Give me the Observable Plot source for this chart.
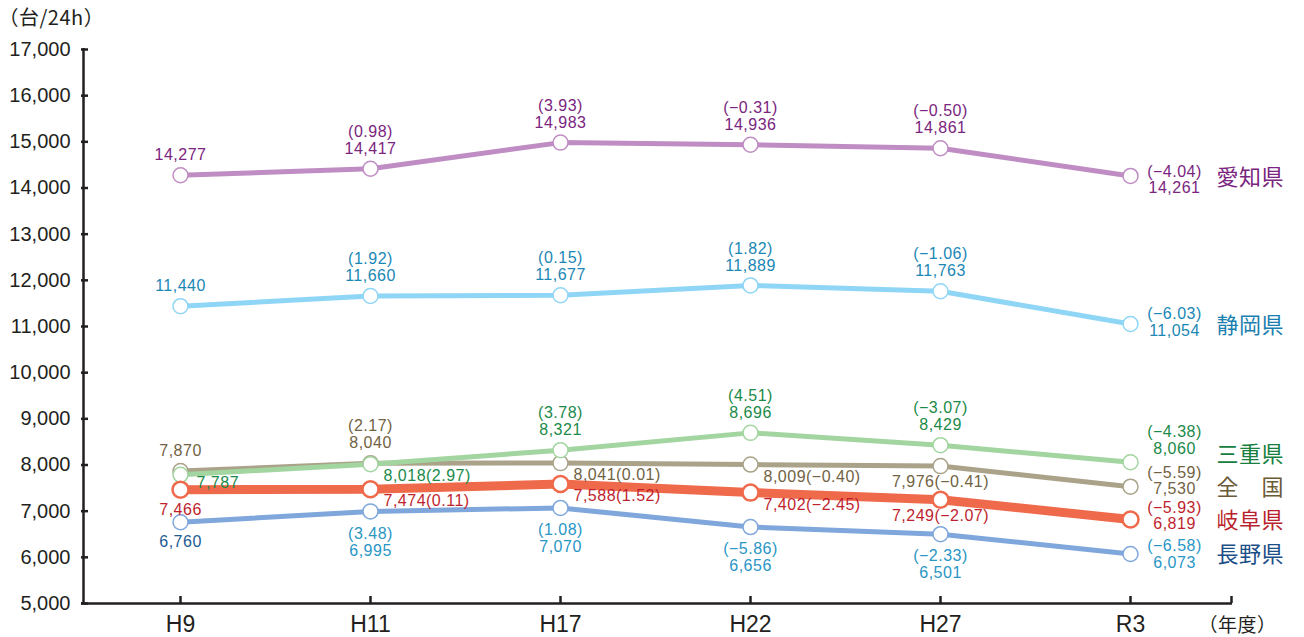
<!DOCTYPE html>
<html>
<head>
<meta charset="utf-8">
<script src="https://cdn.jsdelivr.net/npm/d3@7"></script>
<script src="https://cdn.jsdelivr.net/npm/@observablehq/plot@0.6"></script>
<style>
  html, body { margin: 0; padding: 0; background: #fff; }
  #chart svg g[aria-label="text"] text { letter-spacing: 0.5px; }
</style>
</head>
<body>
<div id="chart"></div>
<script>
// ---------- DATA ----------
const years = ["H9", "H11", "H17", "H22", "H27", "R3"];
const seriesNames = ["愛知県", "静岡県", "三重県", "全国", "岐阜県", "長野県"];
const aichi      = [14277, 14417, 14983, 14936, 14861, 14261];
const aichiPct   = [null, 0.98, 3.93, -0.31, -0.50, -4.04];
const shizuoka   = [11440, 11660, 11677, 11889, 11763, 11054];
const shizuokaPct= [null, 1.92, 0.15, 1.82, -1.06, -6.03];
const mie        = [7787, 8018, 8321, 8696, 8429, 8060];
const miePct     = [null, 2.97, 3.78, 4.51, -3.07, -4.38];
const zenkoku    = [7870, 8040, 8041, 8009, 7976, 7530];
const zenkokuPct = [null, 2.17, 0.01, -0.40, -0.41, -5.59];
const gifu       = [7466, 7474, 7588, 7402, 7249, 6819];
const gifuPct    = [null, 0.11, 1.52, -2.45, -2.07, -5.93];
const nagano     = [6760, 6995, 7070, 6656, 6501, 6073];
const naganoPct  = [null, 3.48, 1.08, -5.86, -2.33, -6.58];
const yTicks = [5000, 6000, 7000, 8000, 9000, 10000, 11000, 12000, 13000, 14000, 15000, 16000, 17000];
const seriesLabels = ["愛知県", "静岡県", "三重県", "全　国", "岐阜県", "長野県"];
const yUnit = "（台/24h）";
const xUnit = "（年度）";

const values = {"愛知県": aichi, "静岡県": shizuoka, "三重県": mie, "全国": zenkoku, "岐阜県": gifu, "長野県": nagano};
const pcts   = {"愛知県": aichiPct, "静岡県": shizuokaPct, "三重県": miePct, "全国": zenkokuPct, "岐阜県": gifuPct, "長野県": naganoPct};

// ---------- LAYOUT / STYLE ----------
const W = 1304, H = 637;
const mL = 81, mR = 72, mT = 49, mB = 34;
const frameW = W - mL - mR, frameH = H - mT - mB;
const xFirst = 178, xLast = 1131;
const axisColor = "#231f20";
const style = {
  "愛知県": {line: "#bf8dc3", text: "#7a2580", name: "#7a2580", w: 5, r: 7.5, sw: 1.5,
            place: ["a1", "a", "a", "a", "a", "e"], end: [-4, 12], nameDy: 2},
  "静岡県": {line: "#8fd6f6", text: "#1b87b5", name: "#1b7fb0", w: 5, r: 7.5, sw: 1.5,
            place: ["a1", "a", "a", "a", "a", "e"], end: [-10, 7], nameDy: 2},
  "三重県": {line: "#a2d5a0", text: "#1b8a49", name: "#17803f", w: 5, r: 7.5, sw: 1.5,
            place: ["r1", "r", "a", "a", "a", "e"], end: [-30, -13], nameDy: -7},
  "全国":   {line: "#aaa38a", text: "#716343", name: "#6b5a37", w: 5, r: 7.5, sw: 1.5,
            place: ["a1", "a", "r", "r", "c", "e"], end: [-14, 2], nameDy: 1},
  "岐阜県": {line: "#ef694b", text: "#c01f2e", name: "#b91f2d", w: 9, r: 8, sw: 2.5,
            place: ["b1", "r", "r", "r", "c", "e"], end: [-12, 4], nameDy: 1},
  "長野県": {line: "#7fa7db", text: "#2a96c5", first: "#1d5b92", name: "#1c4e88", w: 5, r: 7.5, sw: 1.5,
            place: ["b1", "b", "b", "b", "b", "e"], end: [-8, 9], nameDy: 1}
};
const drawOrder = ["全国", "三重県", "長野県", "岐阜県", "静岡県", "愛知県"];

const fmtV = d3.format(",");
const fmtP = p => "(" + (p < 0 ? "−" : "") + Math.abs(p).toFixed(2) + ")";

const rows = seriesNames.flatMap(s => years.map((yr, i) => ({series: s, year: yr, value: values[s][i], pct: pcts[s][i], i})));

const marks = [];
// axis lines and ticks
marks.push(Plot.ruleY([5000], {stroke: axisColor, strokeWidth: 2.5}));
marks.push(Plot.tickX(["H9"], {x: d => d, dx: mL - xFirst, stroke: axisColor, strokeWidth: 2.5, insetTop: -1}));
marks.push(Plot.tickY(yTicks, {y: d => d, stroke: axisColor, strokeWidth: 2.5, insetRight: frameW - 7}));
marks.push(Plot.tickX(years, {x: d => d, stroke: axisColor, strokeWidth: 2.5, insetTop: frameH - 7}));
marks.push(Plot.tickX(["R3"], {x: d => d, dx: (W - mR) - xLast, stroke: axisColor, strokeWidth: 2.5, insetTop: frameH - 7}));
marks.push(Plot.axisY(yTicks, {tickSize: 0, tickPadding: 11, tickFormat: fmtV, fontSize: 20, fill: axisColor, label: null}));
marks.push(Plot.axisX({tickSize: 0, tickPadding: 12, fontSize: 23, fill: axisColor, label: null}));

// lines
for (const s of drawOrder) {
  const st = style[s];
  marks.push(Plot.line(rows.filter(r => r.series === s), {x: "year", y: "value", stroke: st.line, strokeWidth: st.w, strokeLinejoin: "round"}));
}
// dots
for (const s of drawOrder) {
  const st = style[s];
  marks.push(Plot.dot(rows.filter(r => r.series === s), {x: "year", y: "value", r: st.r, fill: "white", stroke: st.line, strokeWidth: st.sw}));
}
// labels
const font = "Liberation Sans, Arial, sans-serif";
function lbl(row, text, color, opts) {
  marks.push(Plot.text([row], {x: "year", y: "value", text: () => text, fill: color, fontSize: 16, fontFamily: font, lineAnchor: "middle", ...opts}));
}
for (const s of seriesNames) {
  const st = style[s];
  rows.filter(r => r.series === s).forEach(row => {
    const mode = st.place[row.i];
    const col = (row.i === 0 && st.first) ? st.first : st.text;
    const v = fmtV(row.value);
    const p = row.pct == null ? "" : fmtP(row.pct);
    if (mode === "a1") lbl(row, v, col, {dy: -20});
    else if (mode === "a") { lbl(row, p, col, {dy: -37}); lbl(row, v, col, {dy: -20}); }
    else if (mode === "b1") lbl(row, v, col, {dy: 20});
    else if (mode === "b") { lbl(row, p, col, {dy: 22}); lbl(row, v, col, {dy: 39}); }
    else if (mode === "r1") lbl(row, v, col, {dx: 16, dy: 8, textAnchor: "start"});
    else if (mode === "r") lbl(row, v + p, col, {dx: 13, dy: 12, textAnchor: "start"});
    else if (mode === "c") lbl(row, v + p, col, {dy: 16});
    else if (mode === "e") { lbl(row, p, col, {dx: 44, dy: st.end[0]}); lbl(row, v, col, {dx: 44, dy: st.end[1]}); }
  });
  const last = rows.find(r => r.series === s && r.i === years.length - 1);
  marks.push(Plot.text([last], {x: "year", y: "value", text: () => seriesLabels[seriesNames.indexOf(s)], fill: st.name,
    fontSize: 22, fontFamily: "Noto Sans CJK JP", textAnchor: "start", lineAnchor: "middle", dx: 86, dy: st.nameDy}));
}
// unit labels
marks.push(Plot.text([yUnit], {frameAnchor: "top-left", text: d => d, dx: -mL - 2, dy: -31, textAnchor: "start", lineAnchor: "middle",
  fontSize: 20, fontFamily: "Noto Sans CJK JP", fill: axisColor}));
marks.push(Plot.text([xUnit], {frameAnchor: "bottom-right", text: d => d, dx: -34, dy: 22, textAnchor: "start", lineAnchor: "middle",
  fontSize: 19, fontFamily: "Noto Sans CJK JP", fill: axisColor}));

const chart = Plot.plot({
  width: W, height: H,
  marginLeft: mL, marginRight: mR, marginTop: mT, marginBottom: mB,
  style: {fontFamily: font, background: "white", overflow: "visible"},
  x: {type: "point", domain: years, range: [xFirst, xLast], padding: 0, axis: null},
  y: {domain: [5000, 17000], axis: null},
  marks
});
document.getElementById("chart").appendChild(chart);
</script>
</body>
</html>
